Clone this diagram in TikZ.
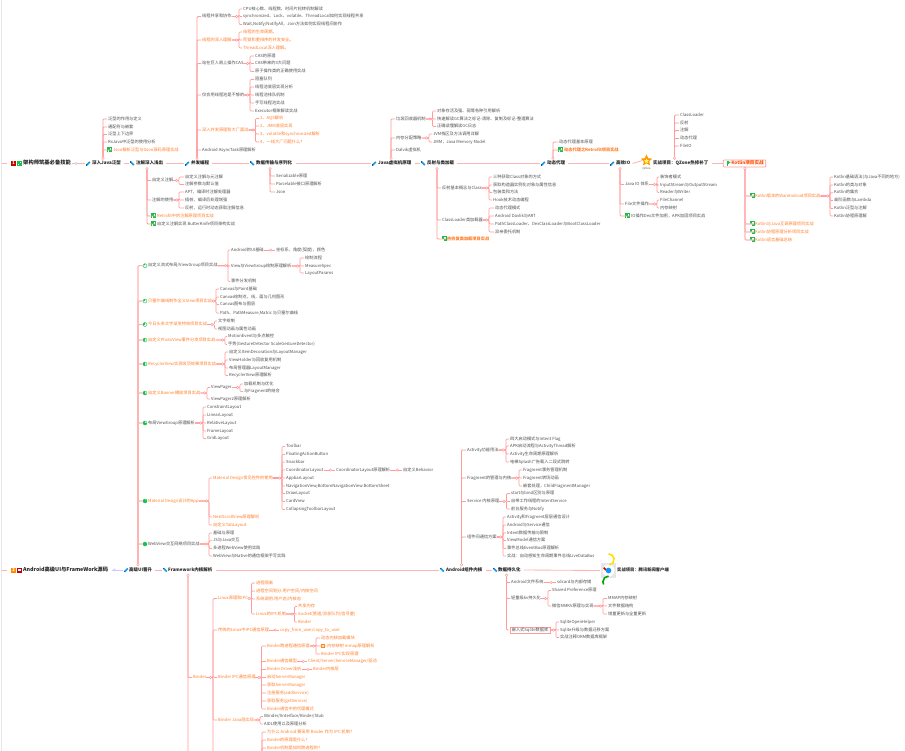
\documentclass[tikz,border=0pt]{standalone}
\usepackage{fontspec}
\setmainfont{Noto Sans CJK SC}
\definecolor{txt}{HTML}{505050}
\definecolor{org}{HTML}{FF7F2A}
\definecolor{lnc}{HTML}{FF9C9C}
\definecolor{mnc}{HTML}{FFB4B4}
\definecolor{grn}{HTML}{12C24A}
\definecolor{blu}{HTML}{1296F0}
\tikzset{
 tx/.style={anchor=west,inner sep=0pt,text=txt,font=\fontsize{4.2}{5}\selectfont,text height=3.4pt,text depth=.9pt},
 or/.style={text=org},
 orb/.style={text=org,font=\fontsize{4.2}{5}\selectfont\bfseries},
 mn/.style={text=black!85,font=\fontsize{4.5}{6}\selectfont\bfseries,text height=3.6pt,text depth=1pt},
 rt/.style={text=black!85,font=\fontsize{5.3}{6}\selectfont\bfseries,text height=4pt,text depth=1pt},
 ln/.style={draw=lnc,line width=.7pt,rounded corners=1pt},
 tr/.style={draw=lnc,line width=.95pt,rounded corners=1pt},
 ml/.style={draw=mnc,line width=.85pt},
 dot/.style={draw=lnc,fill=white,line width=.45pt},
}
\newcommand\tn[5][]{\node[tx,#1] (#2) at (#3,#4) {#5};}
\newcommand\bk[3]{\coordinate (sp) at (#2,0);
 \foreach \k in {#3}{\draw[ln] (#1.east) -- (#1.east -| sp) |- ([xshift=-1pt]\k.west);}
 \draw[dot] ([xshift=-2.5pt]#1.east -| sp) circle[radius=1.2pt];}
\newcommand\nx[2]{\draw[ln] (#1.east) -- ([xshift=-1pt]#2.west);
 \draw[dot] ($(#1.east)!.55!(#2.west)$) circle[radius=1.2pt];}
\newcommand\tku[3]{\coordinate (sp) at (#2,0);
 \foreach \k in {#3}{\draw[tr] ([yshift=2.8pt]#1.north -| sp) |- ([xshift=-1pt]\k.west);}
 \draw[dot] ([yshift=2.8pt]#1.north -| sp) circle[radius=1.3pt];}
\newcommand\tkd[3]{\coordinate (sp) at (#2,0);
 \foreach \k in {#3}{\draw[tr] ([yshift=-2.8pt]#1.south -| sp) |- ([xshift=-1pt]\k.west);}
 \draw[dot] ([yshift=-2.8pt]#1.south -| sp) circle[radius=1.3pt];}
\newcommand\gi[2]{\fill[grn] (#1,#2-2.5) rectangle (#1+5,#2+2.5);
 \fill[white] (#1+2.6,#2-1.8) rectangle (#1+4.2,#2-.3); \fill[white] (#1+.8,#2+.5) rectangle (#1+2.2,#2+1.8);}
\newcommand\pu[2]{\draw[blu,line width=1.5pt] (#1+.4,#2+1.8) -- (#1+3.8,#2-1.6);\fill[blu!60!black] (#1,#2+.8) rectangle (#1+1,#2+2.2);}
\newcommand\pd[2]{\draw[blu,line width=1.5pt] (#1+.4,#2-1.8) -- (#1+3.8,#2+1.6);\fill[blu!60!black] (#1,#2-2.2) rectangle (#1+1,#2-.8);}
\newcommand\ci[3]{\draw[grn,fill=white,line width=.4pt] (#1,#2) circle[radius=2pt];
 \fill[grn] (#1,#2) -- (#1,#2-2) arc[start angle=90,delta angle=#3,radius=2pt] -- cycle;}
\usetikzlibrary{calc,shapes.geometric}
\begin{document}
\begin{tikzpicture}[x=1pt,y=-1pt]
\useasboundingbox (0,0) rectangle (905,751);
\clip (0,0) rectangle (905,751);
\fill[white] (0,0) rectangle (905,751);
\fill[blue!10!gray!18] (.8,0) rectangle (2.2,751);

% ---------- first main row ----------
\coordinate (lf1) at (2,163.5);
\tn[rt]{r1}{23}{163.5}{架构师筑基必备技能}
\tn[mn]{m1}{92}{163.5}{深入Java泛型}
\tn[mn]{m2}{136}{163.5}{注解深入浅出}
\tn[mn]{m3}{191}{163.5}{并发编程}
\tn[mn]{m4}{256}{163.5}{数据传输与序列化}
\tn[mn]{m5}{378}{163.5}{Java虚拟机原理}
\tn[mn]{m6}{427}{163.5}{反射与类加载}
\tn[mn]{m7}{547}{163.5}{动态代理}
\tn[mn]{m8}{616}{163.5}{高效IO}
\node[star,star points=5,star point ratio=2.1,fill=orange!80!yellow,inner sep=0pt,minimum size=12pt] (st) at (646.5,160.5) {};
\node[star,star points=5,star point ratio=2.1,fill=yellow!60,inner sep=0pt,minimum size=5pt] (st2) at (646.5,161) {};
\node[tx,font=\fontsize{2.6}{3}\selectfont,text=txt,anchor=center] (stc) at (646.5,168.6) {QZone};
\tn[mn]{m9}{653}{163.5}{实战项目：QZone热修补丁}
\node[tx,orb,text=orange!60!red,font=\fontsize{4.6}{6}\selectfont\bfseries,draw=lnc,line width=.7pt,rounded corners=.8pt,inner xsep=2pt,inner ysep=1.4pt,text width=38.5pt,align=right,anchor=center] (m10) at (744.5,163.5) {Kotlin项目实战};
\fill[grn] (727,160.8) rectangle (727.8,166.2); \fill[grn] (727.8,160.8) -- (730.5,162.5) -- (727.8,164.2) -- cycle;

\fill[red!80!black] (11,161) rectangle (16,166);
\node[anchor=center,inner sep=0pt,text=white,font=\fontsize{4}{4}\selectfont\bfseries] (i1) at (13.5,163.5) {1};
\fill[grn] (17,161) rectangle (22,166); \fill[white] (19.5,162) rectangle (21,163.4); \fill[white] (18,164) rectangle (19.4,165);
\pu{86}{163.5} \pd{130}{163.5} \pu{185}{163.5} \pd{250}{163.5} \pu{372}{163.5} \pd{421}{163.5} \pu{541}{163.5} \pu{610}{163.5}

\draw[ml] (lf1) -- ([xshift=-16pt]r1.west);
\draw[ml] ([xshift=1pt]r1.east) -- ([xshift=-7pt]m1.west);
\draw[dot,draw=blue!25] ([xshift=5pt]r1.east) circle[radius=1.2pt];
\draw[ml] ([xshift=3pt]m1.east) -- ([xshift=-7pt]m2.west);
\draw[ml] ([xshift=3pt]m2.east) -- ([xshift=-7pt]m3.west);
\draw[ml] ([xshift=3pt]m3.east) -- ([xshift=-7pt]m4.west);
\draw[ml] ([xshift=4pt]m4.east) -- ([xshift=-7pt]m5.west);
\draw[ml] ([xshift=3pt]m5.east) -- ([xshift=-7pt]m6.west);
\draw[ml] ([xshift=3pt]m6.east) -- ([xshift=-7pt]m7.west);
\draw[ml] ([xshift=3pt]m7.east) -- ([xshift=-7pt]m8.west);
\draw[ml] ([xshift=2pt]m8.east) -- (st.west);
\draw[ml] ([xshift=3pt]m9.east) -- (m10.west);

% Java generics
\tn{a1}{108}{119}{泛型的作用与定义}
\tn{a2}{108}{127}{通配符与嵌套}
\tn{a3}{108}{134.5}{泛型上下边界}
\tn{a4}{108}{142}{RxJava中泛型的使用分析}
\tn[or]{a5}{113}{150}{Json解析泛型与Gson源码原理实战}
\gi{107}{150}
\tku{m1}{103}{a1,a2,a3,a4,a5}

% annotations
\tn{b1}{152}{180.5}{自定义注解}
\tn{b2}{152}{200}{注解的使用}
\tn[or]{b3}{157}{216}{Retrofit中的注解原理项目实战}
\tn{b4}{157}{224}{自定义注解实现 ButterKnife项目架构实战}
\gi{151}{216} \gi{151}{224}
\tn{b11}{185}{177}{自定义注解与元注解}
\tn{b12}{185}{184.5}{注解参数与默认值}
\tn{b21}{185}{192}{APT，编译时注解处理器}
\tn{b22}{185}{200}{插桩，编译后处理增强}
\tn{b23}{185}{208}{反射，运行时动态获取注解信息}
\tkd{m2}{147}{b1,b2,b3,b4}
\bk{b1}{179}{b11,b12}
\bk{b2}{179}{b21,b22,b23}

% concurrency
\tn{c1}{202}{16.5}{线程共享和协作}
\tn[or]{c2}{202}{40}{线程的深入理解}
\tn{c3}{202}{63.5}{站在巨人肩上操作CAS}
\tn{c4}{202}{95}{仅会用线程池是不够的}
\tn[or]{c5}{202}{130}{深入并发原理和大厂面试}
\tn{c6}{202}{150}{Android AsyncTask原理解析}
\tn{c11}{243}{9}{CPU核心数、线程数、时间片轮转机制解读}
\tn{c12}{243}{16.5}{synchronized、Lock、volatile、ThreadLocal如何实现线程共享}
\tn{c13}{243}{24.5}{Wait,Notify/NotifyAll，Join方法如何实现线程间协作}
\tn[or]{c21}{243}{32}{线程的生命周期。}
\tn[or]{c22}{243}{40}{死锁和重排序的并发安全。}
\tn[or]{c23}{243}{48}{ThreadLocal深入理解。}
\tn{c31}{255}{56}{CAS的原理}
\tn{c32}{255}{63.5}{CAS带来的3大问题}
\tn{c33}{255}{71.5}{原子操作类的正确使用实战}
\tn{c41}{255}{79.5}{阻塞队列}
\tn{c42}{255}{87}{线程池底层实现分析}
\tn{c43}{255}{95}{线程池排队机制}
\tn{c44}{255}{103}{手写线程池实战}
\tn{c45}{255}{111}{Executor框架解读实战}
\tn[or]{c51}{260}{118.5}{1、AQS解析}
\tn[or]{c52}{260}{126}{2、JMM底层实现}
\tn[or]{c53}{260}{134}{3、volatile和synchronized解析}
\tn[or]{c54}{260}{142}{4、一线大厂问题什么？}
\tku{m3}{197}{c1,c2,c3,c4,c5,c6}
\bk{c1}{239}{c11,c12,c13}
\bk{c2}{239}{c21,c22,c23}
\bk{c3}{250}{c31,c32,c33}
\bk{c4}{250}{c41,c42,c43,c44,c45}
\bk{c5}{255.5}{c51,c52,c53,c54}

% serialization
\tn{d1}{276}{176}{Serializable原理}
\tn{d2}{276}{184}{Parcelable接口原理解析}
\tn{d3}{276}{192}{Json}
\tkd{m4}{270}{d1,d2,d3}

% jvm
\tn{e1}{396}{119}{垃圾回收器机制}
\tn{e2}{396}{138}{内存分配策略}
\tn{e3}{396}{150}{Dalvik虚拟机}
\tn{e11}{437}{111}{对象存活及强、弱等各种引用解析}
\tn{e12}{437}{119}{快速解读GC算法之标记-清除、复制及标记-整理算法}
\tn{e13}{437}{126.5}{正确读懂解读GC日志}
\tn{e21}{433}{134}{JVM栈区及方法调用详解}
\tn{e22}{433}{142}{JMM，Java Memory Model}
\tku{m5}{391}{e1,e2,e3}
\bk{e1}{432.5}{e11,e12,e13}
\bk{e2}{429}{e21,e22}

% reflection
\tn{f1}{442}{188}{反射基本概念与Class}
\tn{f2}{442}{220}{ClassLoader类加载器}
\tn[orb]{f3}{447}{239}{热修复类加载项目实战}
\gi{441.5}{239}
\tn{f11}{493}{177}{三种获取Class对象的方式}
\tn{f12}{493}{185}{获取构造器实例化对象与属性信息}
\tn{f13}{493}{192.5}{包装类和方法}
\tn{f14}{493}{200}{Hook技术动态编程}
\tn{f21}{495}{208}{动态代理模式}
\tn{f22}{495}{216}{Android Davlik与ART}
\tn{f23}{495}{224}{PathClassLoader、DexClassLoader与BootClassLoader}
\tn{f24}{495}{232}{双亲委托机制}
\tkd{m6}{437}{f1,f2,f3}
\bk{f1}{489}{f11,f12,f13,f14}
\bk{f2}{489}{f21,f22,f23,f24}

% dynamic proxy
\tn{g1}{559}{142}{动态代理基本原理}
\tn[orb]{g2}{564}{150}{动态代理之Retrofit项目实战}
\gi{558}{150}
\tku{m7}{553}{g1,g2}

% io
\tn{h1}{625}{184.5}{Java IO 体系}
\tn{h2}{625}{204}{File文件操作}
\tn{h3}{631}{216}{IO操作Dex文件加密，APK加固项目实战}
\gi{625}{216}
\tn{h11}{660}{177}{装饰者模式}
\tn{h12}{660}{185}{InputStream与OutputStream}
\tn{h13}{660}{192.5}{Reader与Writer}
\tn{h21}{660}{200}{FileChannel}
\tn{h22}{660}{208}{内存映射}
\tkd{m8}{620}{h1,h2,h3}
\bk{h1}{657}{h11,h12,h13}
\bk{h2}{657}{h21,h22}

% qzone
\tn{i1a}{680}{115}{ClassLoader}
\tn{i2a}{680}{123}{反射}
\tn{i3a}{680}{130.7}{注解}
\tn{i4a}{680}{138.5}{动态代理}
\tn{i5a}{680}{146}{FileIO}
\tku{m9}{674.5}{i1a,i2a,i3a,i4a,i5a}

% kotlin
\tn[or]{k1}{755}{196}{Kotlin版本的WanAndroid项目实战}
\tn[or]{k2}{755}{224}{Kotlin与Java互调原理项目实战}
\tn[or]{k3}{755}{232}{Kotlin协程原理分析项目实战}
\tn[or]{k4}{755}{240}{Kotlin语言基础总结}
\gi{749.5}{196} \gi{749.5}{224} \gi{749.5}{232} \gi{749.5}{240}
\tn{k11}{834}{177}{Kotlin基础语法(与Java不同的地方)}
\tn{k12}{834}{185}{Kotlin的类与对象}
\tn{k13}{834}{192.7}{Kotlin的集合}
\tn{k14}{834}{200.5}{高阶函数与Lambda}
\tn{k15}{834}{208.5}{Kotlin泛型与注解}
\tn{k16}{834}{216}{Kotlin协程原理解}
\coordinate (kt) at (745,169);
\foreach \k in {k1,k2,k3,k4}{\draw[tr,draw=mnc,line width=1.1pt] (m10.south -| kt) |- ([xshift=-1pt]\k.west);}
\draw[dot] ([yshift=-1pt]m10.south -| kt) circle[radius=1.3pt];
\bk{k1}{830}{k11,k12,k13,k14,k15,k16}

% ---------- second main row ----------
\coordinate (lf2) at (2,570);
\tn[rt]{s1}{23}{570}{Android高级UI与FrameWork源码}
\tn[mn]{s2}{129}{570}{高级UI晋升}
\tn[mn]{s3}{168}{570}{Framework内核解析}
\tn[mn]{s4}{446}{570}{Android组件内核}
\tn[mn]{s5}{498}{570}{数据持久化}
\tn[mn,font=\fontsize{4.3}{5}\selectfont\bfseries]{s6}{617}{570}{实战项目：腾讯新闻客户端}
\coordinate (nw) at (601,570.5);
\fill[blue!8!gray!18] (601,563) rectangle (616,578);
\fill[white] (608.5,570.5) circle[radius=6pt];
\draw[green!65!black,line width=1.6pt] (608.5,570.5) ++(90:5.6) arc[start angle=90,delta angle=120,radius=5.6pt];
\draw[red!80!black,line width=1.6pt] (608.5,570.5) ++(210:5.6) arc[start angle=210,delta angle=70,radius=5.6pt];
\draw[yellow!85!orange,line width=1.6pt] (608.5,570.5) ++(280:5.6) arc[start angle=280,delta angle=170,radius=5.6pt];
\fill[blu] (608.5,570.5) circle[radius=2.8pt];
\fill[orange!90!yellow] (11,567.5) rectangle (16,572.5);
\node[anchor=center,inner sep=0pt,text=white,font=\fontsize{4}{4}\selectfont\bfseries] (i2) at (13.5,570) {2};
\fill[red!75!black] (17,567.5) rectangle (22,572.5); \fill[white] (18.4,569) rectangle (20.6,571);
\pu{124}{570} \pd{163}{570} \pd{440}{570} \pd{493}{570}
\draw[ml] (lf2) -- ([xshift=-16pt]s1.west);
\draw[ml,draw=blue!20] ([xshift=4pt]s1.east) -- ([xshift=-6pt]s2.west);
\draw[dot,draw=blue!25] ([xshift=6pt]s1.east) circle[radius=1.2pt];
\draw[ml] ([xshift=3pt]s2.east) -- ([xshift=-6pt]s3.west);
\draw[ml] ([xshift=3pt]s3.east) -- ([xshift=-7pt]s4.west);
\draw[ml] ([xshift=3pt]s4.east) -- ([xshift=-6pt]s5.west);
\draw[ml] ([xshift=3pt]s5.east) -- (nw -| 600,0);

% advanced UI
\tn{u1}{148}{265.7}{自定义流式布局/ViewGroup项目实战}
\tn[or]{u2}{148}{301}{贝塞尔曲线制作全义View项目实战}
\tn[or]{u3}{148}{324.5}{今日头条文字渐变特效项目实战}
\tn[or]{u4}{148}{340}{自定义PhotoView事件分发项目实战}
\tn[or]{u5}{148}{364}{RecyclerView实现吸顶效果项目实战}
\tn[or]{u6}{148}{393}{自定义Banner播放项目实战}
\tn{u7}{148}{423}{布局ViewGroup原理解析}
\tn[or]{u8}{148}{501}{Material Design设计的App}
\tn{u9}{148}{544}{WebView交互网络项目实战}
\foreach \k in {u1,u2,u3,u4,u5,u6,u7,u8,u9}{\draw[tr,draw=mnc,line width=1.1pt] ([yshift=2.8pt]s2.north -| 138,0) |- ([xshift=-5.5pt]\k.west);}
\draw[dot] ([yshift=2.8pt]s2.north -| 138,0) circle[radius=1.3pt];
\ci{145}{265.7}{40} \ci{145}{301}{80} \ci{145}{324.5}{120} \ci{145}{340}{160} \ci{145}{364}{180} \ci{145}{393}{220} \ci{145}{423}{270} \ci{145}{501}{320} \ci{145}{544}{359}

\tn{u11}{231}{250}{Android的UI基础}
\tn{u111}{276}{250}{坐标系，角度(弧度)，颜色}
\tn{u12}{231}{266}{View与ViewGroup绘制原理解析}
\tn{u121}{305}{258}{绘制流程}
\tn{u122}{305}{266}{MeasureSpec}
\tn{u123}{305}{273}{LayoutParams}
\tn{u13}{231}{281.5}{事件分发机制}
\bk{u1}{228}{u11,u12,u13}
\nx{u11}{u111}
\bk{u12}{300}{u121,u122,u123}
\tn{u21}{220}{289}{Canvas与Paint基础}
\tn{u22}{220}{297}{Canvas绘制点，线，面与几何图形}
\tn{u23}{220}{304.5}{Canvas图布与图层}
\tn{u24}{220}{313}{Path、PathMeasure,Matric 与贝塞尔曲线}
\bk{u2}{216}{u21,u22,u23,u24}
\tn{u31}{218}{321}{文字绘制}
\tn{u32}{218}{329}{视图动画与属性动画}
\bk{u3}{214.5}{u31,u32}
\tn{u41}{228}{336.5}{MotionEvent与多点触控}
\tn{u42}{228}{344.5}{手势(GestureDetector ScaleGestureDetector)}
\bk{u4}{225}{u41,u42}
\tn{u51}{229}{352}{自定义ItemDecoration与LayoutManager}
\tn{u52}{229}{360}{ViewHolder与回收复用机制}
\tn{u53}{229}{368}{布局管理器LayoutManager}
\tn{u54}{229}{375.5}{RecyclerView原理解析}
\bk{u5}{225}{u51,u52,u53,u54}
\tn{u61}{211}{387.5}{ViewPager}
\tn{u62}{211}{399}{ViewPager2原理解析}
\tn{u611}{244}{384}{加载机制与优化}
\tn{u612}{244}{391.5}{与Fragment的结合}
\bk{u6}{207}{u61,u62}
\bk{u61}{240}{u611,u612}
\tn{u71}{207}{407}{ConstraintLayout}
\tn{u72}{207}{415}{LinearLayout}
\tn{u73}{207}{423}{RelativeLayout}
\tn{u74}{207}{431}{FrameLayout}
\tn{u75}{207}{438.5}{GridLayout}
\bk{u7}{203}{u71,u72,u73,u74,u75}
\tn[or]{u81}{213}{478}{Material Design常见控件的使用}
\tn[or]{u82}{213}{517}{NestScrollView原理解析}
\tn[or]{u83}{213}{525}{自定义TabLayout}
\bk{u8}{209}{u81,u82,u83}
\tn{v1}{286}{446.5}{Toolbar}
\tn{v2}{286}{454.5}{FloatingActionButton}
\tn{v3}{286}{462}{Snackbar}
\tn{v4}{286}{470}{CoordinatorLayout}
\tn{v5}{286}{478}{AppbarLayout}
\tn{v6}{286}{486}{NavigationView,BottomNavigationView BottomSheet}
\tn{v7}{286}{493.5}{DrawLayout}
\tn{v8}{286}{501.5}{CardView}
\tn{v9}{286}{509.5}{CollapsingToolbarLayout}
\bk{u81}{282}{v1,v2,v3,v4,v5,v6,v7,v8,v9}
\tn{v41}{336}{470}{CoordinatorLayout原理解析}
\tn{v42}{403}{470}{自定义Behavior}
\nx{v4}{v41}
\nx{v41}{v42}
\tn{u91}{213}{533}{基础与原理}
\tn{u92}{213}{540.7}{JS与Java交互}
\tn{u93}{213}{548.5}{多进程WebView使用实践}
\tn{u94}{213}{556}{WebView与Native的通信框架手写实践}
\bk{u9}{209}{u91,u92,u93,u94}

% framework
\coordinate (fwend) at (188,765);
\coordinate (bqend) at (213,765);
\coordinate (bq2) at (262,765);
\tn[or]{bd}{193}{677.5}{Binder}
\tkd{s3}{188}{bd,fwend}
\tn[or]{l1}{218}{598.5}{Linux原理和IPC}
\tn[or]{l2}{218}{630}{传统的Linux中IPC通信原理}
\tn[or]{l3}{218}{677.5}{Binder IPC通信原理}
\tn[or]{l4}{218}{720}{Binder Java层实现}
\bk{bd}{213}{l1,l2,l3,l4,bqend}
\tn[or]{l11}{256}{583}{进程隔离}
\tn[or]{l12}{256}{591}{进程空间划分:用户空间/内核空间}
\tn[or]{l13}{256}{599}{系统调用:用户态/内核态}
\tn[or]{l14}{256}{614}{Linux的IPC机制}
\bk{l1}{251.5}{l11,l12,l13,l14}
\tn[or]{l141}{298}{606.5}{共享内存}
\tn[or]{l142}{298}{614}{Socket(管道/消息队列/信号量)}
\tn[or]{l143}{298}{622}{Binder}
\bk{l14}{294.5}{l141,l142,l143}
\tn[or]{l21}{280}{630}{copy\_from\_user/copy\_to\_user}
\nx{l2}{l21}
\tn[or]{p1}{267}{646}{Binder跨进程通信原理}
\tn[or]{p2}{267}{661.5}{Binder通信模型}
\tn[or]{p3}{267}{669.5}{Binder Driver浅析}
\tn[or]{p4}{267}{677.5}{启动ServerManager}
\tn[or]{p5}{267}{685}{获取ServerManager}
\tn[or]{p6}{267}{693}{注册服务(addService)}
\tn[or]{p7}{267}{701}{获取服务(getService)}
\tn[or]{p8}{267}{709}{Binder通信中的代理模式}
\bk{l3}{261.5}{p1,p2,p3,p4,p5,p6,p7,p8}
\tn[or]{p11}{321}{638}{动态内核加载模块}
\tn[or]{p12}{327}{646}{内存映射 mmap原理解析}
\tn[or]{p13}{321}{654}{Binder IPC实现原理}
\fill[orange!90!yellow] (321,643.8) rectangle (325.4,648.2);\fill[white] (322.4,645.2) rectangle (324,646.8);
\bk{p1}{316}{p11,p12,p13}
\tn[or]{p21}{308}{661.5}{Client/Server/ServiceManager/驱动}
\nx{p2}{p21}
\tn[or]{p31}{313}{669.5}{Binder内核层}
\nx{p3}{p31}
\tn{l41}{264}{716.5}{IBinder/IInterface/Binder/Stub}
\tn{l42}{264}{724}{AIDL使用以及原理分析}
\bk{l4}{260}{l41,l42}
\tn[or]{q1}{267}{732}{为什么 Android 要采用 Binder 作为 IPC 机制？}
\tn[or]{q2}{267}{740}{Binder的原理是什么？}
\tn[or]{q3}{267}{748}{Binder机制是如何跨进程的？}
\foreach \k in {q1,q2,q3}{\draw[ln] (bq2) |- ([xshift=-1pt]\k.west);}

% android components
\tn{w1}{467}{450}{Activity功能用法}
\tn{w2}{467}{478}{Fragment的管理与内核}
\tn{w3}{467}{501.5}{Service 内核原理}
\tn{w4}{467}{537}{组件间通信方案}
\tku{s4}{461.5}{w1,w2,w3,w4}
\tn{w11}{510}{439}{四大启动模式与Intent Flag}
\tn{w12}{510}{446}{APK启动流程与ActivityThread解析}
\tn{w13}{510}{454}{Activity生命周期原理解析}
\tn{w14}{510}{462}{电梯Splash广告载入二段式跳转}
\bk{w1}{506}{w11,w12,w13,w14}
\tn{w21}{523}{470}{Fragment事务管理机制}
\tn{w22}{523}{478}{Fragment转场动画}
\tn{w23}{523}{486}{嵌套处理，ChildFragmentManager}
\bk{w2}{519}{w21,w22,w23}
\tn{w31}{511}{493.5}{start与bind区别与原理}
\tn{w32}{511}{501.5}{自带工作线程的IntentService}
\tn{w33}{511}{509}{前台服务与Notify}
\bk{w3}{506.5}{w31,w32,w33}
\tn{w41}{507}{517}{Activity和Fragment层层通信设计}
\tn{w42}{507}{525}{Android与Service通信}
\tn{w43}{507}{533}{Intent数据传输与限制}
\tn{w44}{507}{540.5}{ViewModel通信方案}
\tn{w45}{507}{548.5}{事件总线EventBus原理解析}
\tn{w46}{507}{556}{实战：自动感知生命周期事件总线LiveDataBus}
\bk{w4}{503}{w41,w42,w43,w44,w45,w46}

% persistence
\tn{x1}{511}{582.5}{Android文件系统}
\tn{x2}{511}{598.5}{轻量级kv持久化}
\node[tx,draw=lnc,line width=.6pt,inner xsep=2pt,inner ysep=1pt] (x3) at (509.5,630) {嵌入式Sqlite数据库};
\tkd{s5}{506.5}{x1,x2,x3}
\tn{x11}{557}{582.5}{sdcard与内部存储}
\nx{x1}{x11}
\tn{x21}{552}{590.5}{Shared Preference原理}
\tn{x22}{552}{606}{微信MMKV原理与实现}
\bk{x2}{548}{x21,x22}
\tn{x221}{608}{598.5}{MMAP内存映射}
\tn{x222}{608}{606}{文件数据结构}
\tn{x223}{608}{614}{增量更新与全量更新}
\bk{x22}{603}{x221,x222,x223}
\tn{x31}{560}{622}{SqliteOpenHelper}
\tn{x32}{560}{630}{Sqlite升级与数据迁移方案}
\tn{x33}{560}{637.5}{实战注释ORM数据库框架}
\bk{x3}{556}{x31,x32,x33}
\end{tikzpicture}
\end{document}
